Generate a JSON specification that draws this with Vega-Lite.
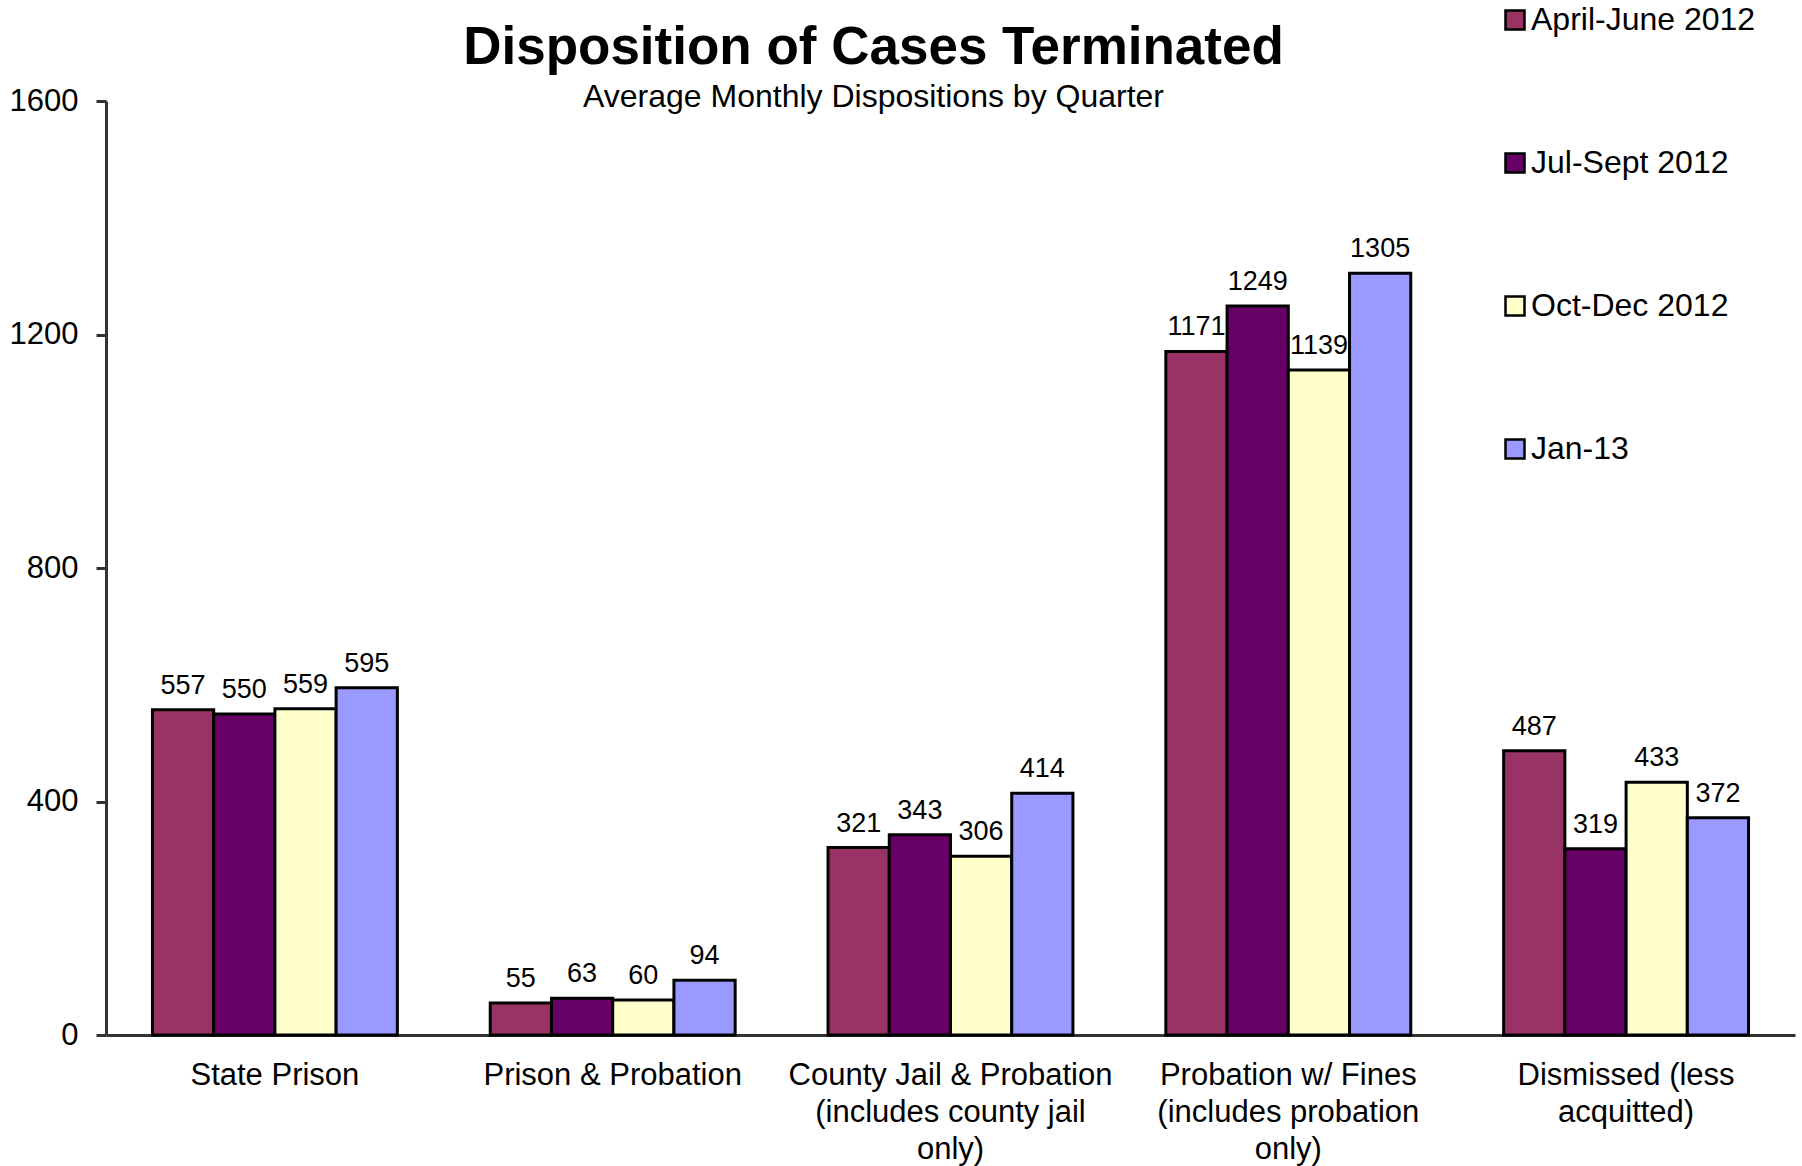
{
  "$schema": "https://vega.github.io/schema/vega-lite/v6.json",
  "width": 1689,
  "height": 934,
  "autosize": {"type": "none"},
  "padding": {"left": 106, "top": 101, "right": 7, "bottom": 131},
  "background": "white",
  "config": {"font": "Liberation Sans", "view": {"stroke": null}},
  "title": {
    "text": "Disposition of Cases Terminated",
    "subtitle": "Average Monthly Dispositions by Quarter",
    "fontSize": 53,
    "fontWeight": "bold",
    "subtitleFontSize": 32,
    "subtitleFont": "Liberation Sans",
    "color": "black",
    "subtitleColor": "black",
    "anchor": "middle",
    "frame": "group",
    "dx": -77,
    "offset": -109,
    "subtitlePadding": 7
  },
  "data": {
    "values": [
      {"category": "State Prison", "quarter": "April-June 2012", "value": 557},
      {"category": "State Prison", "quarter": "Jul-Sept 2012", "value": 550},
      {"category": "State Prison", "quarter": "Oct-Dec 2012", "value": 559},
      {"category": "State Prison", "quarter": "Jan-13", "value": 595},
      {"category": "Prison & Probation", "quarter": "April-June 2012", "value": 55},
      {"category": "Prison & Probation", "quarter": "Jul-Sept 2012", "value": 63},
      {"category": "Prison & Probation", "quarter": "Oct-Dec 2012", "value": 60},
      {"category": "Prison & Probation", "quarter": "Jan-13", "value": 94},
      {"category": "County Jail & Probation|(includes county jail|only)", "quarter": "April-June 2012", "value": 321},
      {"category": "County Jail & Probation|(includes county jail|only)", "quarter": "Jul-Sept 2012", "value": 343},
      {"category": "County Jail & Probation|(includes county jail|only)", "quarter": "Oct-Dec 2012", "value": 306},
      {"category": "County Jail & Probation|(includes county jail|only)", "quarter": "Jan-13", "value": 414},
      {"category": "Probation w/ Fines|(includes probation|only)", "quarter": "April-June 2012", "value": 1171},
      {"category": "Probation w/ Fines|(includes probation|only)", "quarter": "Jul-Sept 2012", "value": 1249},
      {"category": "Probation w/ Fines|(includes probation|only)", "quarter": "Oct-Dec 2012", "value": 1139},
      {"category": "Probation w/ Fines|(includes probation|only)", "quarter": "Jan-13", "value": 1305},
      {"category": "Dismissed (less|acquitted)", "quarter": "April-June 2012", "value": 487},
      {"category": "Dismissed (less|acquitted)", "quarter": "Jul-Sept 2012", "value": 319},
      {"category": "Dismissed (less|acquitted)", "quarter": "Oct-Dec 2012", "value": 433},
      {"category": "Dismissed (less|acquitted)", "quarter": "Jan-13", "value": 372}
    ]
  },
  "encoding": {
    "x": {
      "field": "category",
      "type": "nominal",
      "sort": null,
      "scale": {"paddingInner": 0.275, "paddingOuter": 0.1375},
      "axis": {
        "title": null,
        "labelAngle": 0,
        "ticks": false,
        "tickSize": 0,
        "labelPadding": 25,
        "labelFontSize": 31,
        "labelLineHeight": 37,
        "labelColor": "black",
        "labelLimit": 0,
        "labelExpr": "split(datum.value, '|')",
        "domainColor": "#333333",
        "domainWidth": 3
      }
    },
    "xOffset": {
      "field": "quarter",
      "type": "nominal",
      "sort": ["April-June 2012", "Jul-Sept 2012", "Oct-Dec 2012", "Jan-13"],
      "scale": {"paddingInner": 0, "paddingOuter": 0}
    },
    "y": {
      "field": "value",
      "type": "quantitative",
      "scale": {"domain": [0, 1600], "nice": false},
      "axis": {
        "title": null,
        "values": [0, 400, 800, 1200, 1600],
        "format": "d",
        "grid": false,
        "domainColor": "#333333",
        "domainWidth": 3,
        "tickColor": "#333333",
        "tickWidth": 3,
        "tickSize": 10,
        "labelFontSize": 31,
        "labelColor": "black",
        "labelPadding": 18
      }
    }
  },
  "layer": [
    {
      "mark": {"type": "bar", "stroke": "black", "strokeWidth": 3},
      "encoding": {
        "color": {
          "field": "quarter",
          "type": "nominal",
          "sort": ["April-June 2012", "Jul-Sept 2012", "Oct-Dec 2012", "Jan-13"],
          "scale": {
            "domain": ["April-June 2012", "Jul-Sept 2012", "Oct-Dec 2012", "Jan-13"],
            "range": ["#993366", "#660066", "#FFFFCC", "#9999FF"]
          },
          "legend": {
            "title": null,
            "orient": "none",
            "legendX": 1393,
            "legendY": -97,
            "direction": "vertical",
            "columns": 1,
            "padding": 0,
            "rowPadding": 111,
            "symbolType": "square",
            "symbolSize": 361,
            "symbolStrokeColor": "black",
            "symbolStrokeWidth": 2.5,
            "symbolOpacity": 1,
            "labelFontSize": 32,
            "labelColor": "black",
            "labelOffset": 0,
            "labelLimit": 0
          }
        }
      }
    },
    {
      "mark": {"type": "text", "dy": -16, "baseline": "alphabetic", "fontSize": 27, "color": "black"},
      "encoding": {"text": {"field": "value", "type": "quantitative"}}
    }
  ]
}
